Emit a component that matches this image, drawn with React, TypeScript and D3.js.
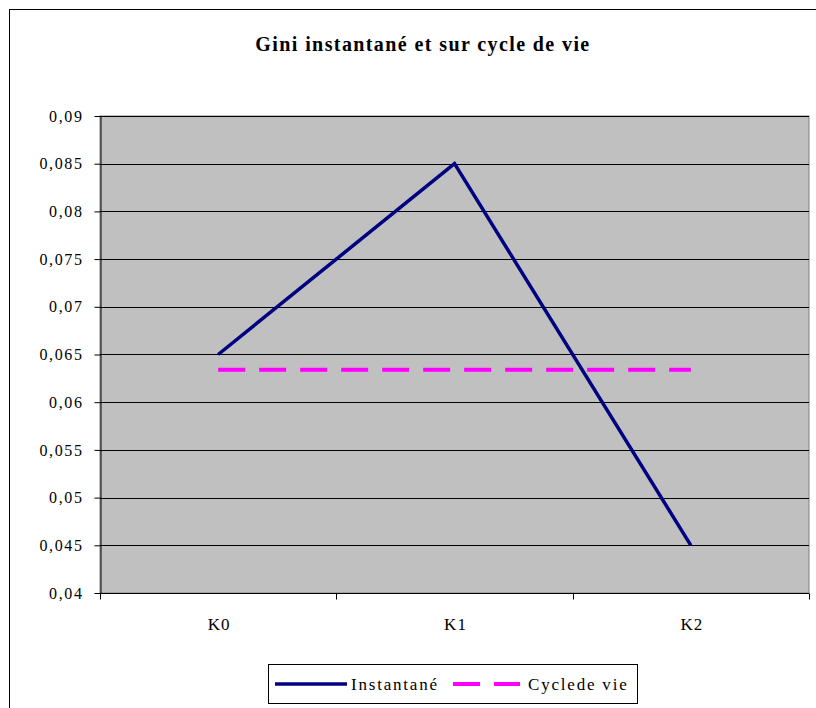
import { useEffect, useRef } from "react";
import * as d3 from "d3";

const categories = ["K0", "K1", "K2"];
const instantane = [0.065, 0.085, 0.045];
const cycleVie = [0.0634, 0.0634, 0.0634];
const yTicks = [0.04, 0.045, 0.05, 0.055, 0.06, 0.065, 0.07, 0.075, 0.08, 0.085, 0.09];

const fmt = (v: number) => String(+v.toFixed(3)).replace(".", ",");
const FONT = "Liberation Serif, DejaVu Serif, Times New Roman, Times, serif";

export default function App() {
  const ref = useRef<SVGSVGElement | null>(null);

  useEffect(() => {
    const svg = d3.select(ref.current);
    svg.selectAll("*").remove();

    const left = 100, right = 809, top = 116, bottom = 593;

    // outer frame
    svg.append("rect")
      .attr("x", 9.5).attr("y", 9.5)
      .attr("width", 830).attr("height", 730)
      .attr("fill", "#fff").attr("stroke", "#000").attr("stroke-width", 1);

    // title
    svg.append("text")
      .attr("x", 423).attr("y", 51)
      .attr("text-anchor", "middle")
      .style("font-family", FONT)
      .style("letter-spacing", "1.4px")
      .attr("font-weight", "bold")
      .attr("font-size", "20px")
      .text("Gini instantané et sur cycle de vie");

    const x = d3.scaleBand().domain(categories).range([left, right]);
    const y = d3.scaleLinear().domain([0.04, 0.09]).range([bottom, top]);

    // plot area
    svg.append("rect")
      .attr("x", left).attr("y", top)
      .attr("width", right - left).attr("height", bottom - top)
      .attr("fill", "#c0c0c0").attr("stroke", "#808080");

    // gridlines
    svg.append("g")
      .selectAll("line")
      .data(yTicks.slice(1))
      .join("line")
      .attr("x1", left).attr("x2", right)
      .attr("y1", d => Math.round(y(d)) + 0.5)
      .attr("y2", d => Math.round(y(d)) + 0.5)
      .attr("stroke", "#000").attr("stroke-width", 1);

    // y axis
    const yAxis = svg.append("g")
      .attr("transform", `translate(${left + 0.5},0)`)
      .call(d3.axisLeft(y).tickValues(yTicks).tickFormat(d => fmt(d as number)).tickSize(6).tickSizeOuter(0));
    yAxis.select(".domain").attr("stroke", "#000");
    yAxis.selectAll(".tick line").attr("stroke", "#000");
    yAxis.selectAll(".tick text")
      .style("font-family", FONT)
      .style("font-size", "16px")
      .style("letter-spacing", "1.6px")
      .attr("fill", "#000")
      .attr("x", -17);

    // x axis
    const xa = svg.append("g").attr("transform", `translate(0,${bottom + 0.5})`);
    xa.append("line").attr("x1", left).attr("x2", right).attr("stroke", "#000");
    const bounds = categories.map(c => x(c) as number).concat([right]);
    xa.selectAll("line.tk")
      .data(bounds)
      .join("line")
      .attr("class", "tk")
      .attr("x1", d => Math.round(d) + 0.5).attr("x2", d => Math.round(d) + 0.5)
      .attr("y1", 0).attr("y2", 6)
      .attr("stroke", "#000");
    xa.selectAll("text")
      .data(categories)
      .join("text")
      .attr("x", d => (x(d) as number) + x.bandwidth() / 2 + 1)
      .attr("y", 36)
      .attr("text-anchor", "middle")
      .style("font-family", FONT)
      .style("letter-spacing", "1px")
      .attr("font-size", "17px")
      .text(d => d);

    const line = d3.line<number>()
      .x((_, i) => (x(categories[i]) as number) + x.bandwidth() / 2)
      .y(d => y(d));

    svg.append("path")
      .datum(cycleVie)
      .attr("d", line)
      .attr("fill", "none")
      .attr("stroke", "#ff00ff")
      .attr("stroke-width", 4)
      .attr("stroke-dasharray", "27,14");

    svg.append("path")
      .datum(instantane)
      .attr("d", line)
      .attr("fill", "none")
      .attr("stroke", "#000080")
      .attr("stroke-width", 3.5);

    // legend
    const lg = svg.append("g");
    lg.append("rect")
      .attr("x", 268.5).attr("y", 664.5)
      .attr("width", 369).attr("height", 39)
      .attr("fill", "#fff").attr("stroke", "#000");
    lg.append("line")
      .attr("x1", 275).attr("x2", 347).attr("y1", 684).attr("y2", 684)
      .attr("stroke", "#000080").attr("stroke-width", 3.5);
    lg.append("text")
      .attr("x", 351).attr("y", 690)
      .style("font-family", FONT)
      .style("letter-spacing", "1.8px")
      .attr("font-size", "17px")
      .text("Instantané");
    lg.append("line")
      .attr("x1", 453).attr("x2", 520).attr("y1", 684).attr("y2", 684)
      .attr("stroke", "#ff00ff").attr("stroke-width", 4)
      .attr("stroke-dasharray", "27,14");
    lg.append("text")
      .attr("x", 528).attr("y", 690)
      .style("font-family", FONT)
      .style("letter-spacing", "1.8px")
      .attr("font-size", "17px")
      .text("Cyclede vie");
  }, []);

  return (
    <svg ref={ref} width={816} height={708}
      style={{ position: "absolute", left: 0, top: 0, display: "block" }} />
  );
}
